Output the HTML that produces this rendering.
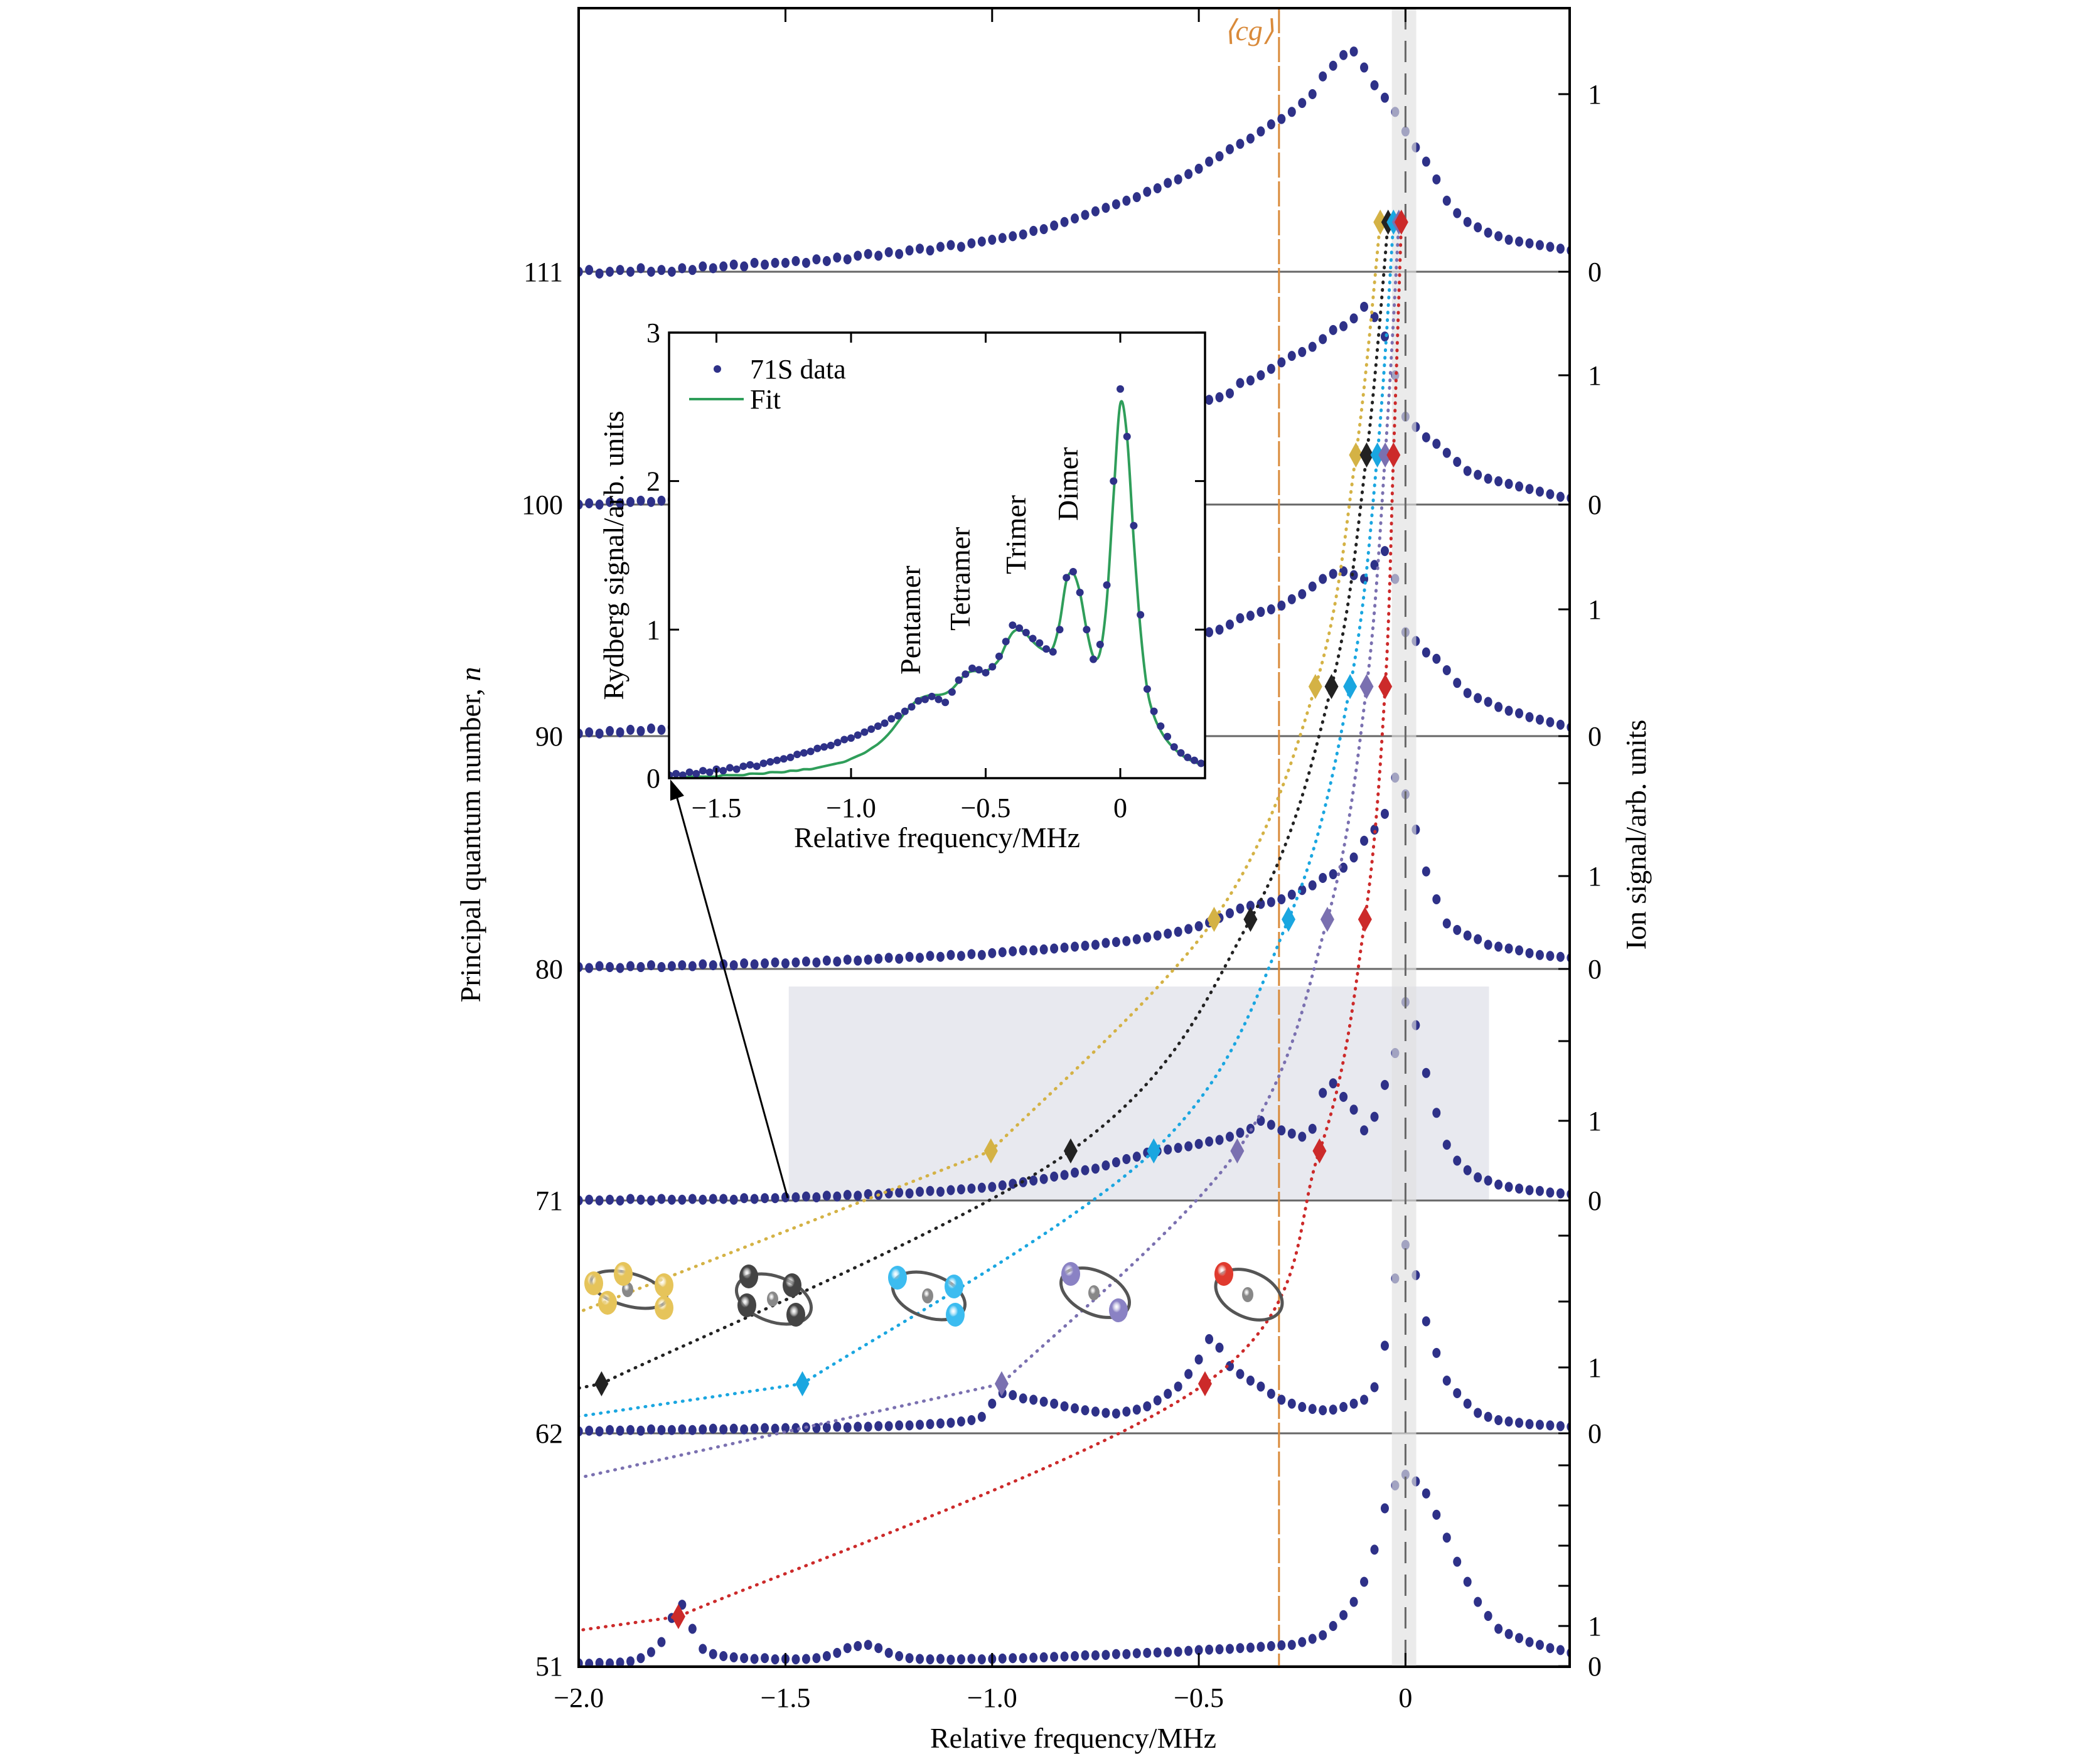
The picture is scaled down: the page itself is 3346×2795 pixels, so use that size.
<!DOCTYPE html>
<html><head><meta charset="utf-8"><style>
html,body{margin:0;padding:0;background:#fff;}
svg{display:block;}
text{font-family:"Liberation Serif",serif;}
</style></head><body>
<svg id="chart" width="3346" height="2795" viewBox="0 0 3346 2795" xmlns="http://www.w3.org/2000/svg"></svg>
<script>
// ---------- DATA ----------
const panelLabels = ["111","100","90","80","71","62","51"];
const freqStart = -2.0;
const freqStep = 0.025;
const xTickValues = [-2.0,-1.5,-1.0,-0.5,0];
const xTickLabels = ["\u22122.0","\u22121.5","\u22121.0","\u22120.5","0"];
const s111 = [0.0,0.01,-0.01,0.0,0.01,0.0,0.02,0.0,0.01,0.0,0.02,0.01,0.03,0.02,0.03,0.04,0.03,0.05,0.04,0.05,0.05,
 0.06,0.05,0.07,0.06,0.08,0.07,0.09,0.10,0.09,0.11,0.10,0.12,0.13,0.12,0.14,0.15,0.14,0.16,0.17,0.18,
 0.19,0.2,0.21,0.23,0.24,0.26,0.28,0.3,0.32,0.34,0.36,0.38,0.4,0.42,0.45,0.47,0.5,0.52,0.55,0.58,
 0.62,0.65,0.69,0.72,0.75,0.79,0.83,0.86,0.9,0.95,1.0,1.1,1.16,1.22,1.24,1.15,1.05,0.98,0.9,0.79,
 0.7,0.62,0.52,0.4,0.33,0.28,0.25,0.22,0.2,0.18,0.17,0.16,0.15,0.14,0.13,0.12];
const s100 = [0.0,0.01,0.0,0.02,0.01,0.02,0.03,0.02,0.03,0.04,0.04,0.05,0.05,0.06,0.06,0.07,0.07,0.08,0.09,0.09,0.1,
 0.1,0.11,0.12,0.12,0.13,0.14,0.15,0.15,0.16,0.17,0.18,0.19,0.2,0.21,0.22,0.23,0.25,0.26,0.28,0.3,
 0.31,0.33,0.35,0.37,0.39,0.41,0.43,0.45,0.48,0.5,0.53,0.55,0.58,0.6,0.63,0.66,0.69,0.72,0.75,0.78,
 0.81,0.83,0.86,0.94,0.96,1.0,1.05,1.1,1.15,1.18,1.22,1.28,1.35,1.38,1.44,1.53,1.45,1.3,1.0,0.68,
 0.6,0.52,0.47,0.4,0.33,0.26,0.23,0.2,0.18,0.16,0.14,0.12,0.1,0.08,0.06,0.05];
const s90 = [0.02,0.03,0.02,0.04,0.03,0.05,0.04,0.06,0.05,0.07,0.06,0.08,0.08,0.09,0.1,0.1,0.11,0.12,0.12,0.13,0.14,
 0.15,0.16,0.16,0.17,0.18,0.19,0.2,0.21,0.22,0.23,0.24,0.25,0.26,0.28,0.29,0.3,0.32,0.33,0.35,0.37,
 0.38,0.4,0.42,0.44,0.46,0.48,0.5,0.52,0.54,0.56,0.58,0.6,0.62,0.65,0.67,0.7,0.72,0.75,0.77,0.8,
 0.82,0.84,0.88,0.93,0.95,0.98,1.0,1.03,1.08,1.12,1.18,1.24,1.28,1.3,1.27,1.24,1.35,1.46,1.24,0.82,
 0.75,0.66,0.61,0.52,0.42,0.34,0.3,0.27,0.23,0.2,0.18,0.15,0.13,0.11,0.09,0.07];
const s80 = [0.02,0.01,0.03,0.02,0.01,0.03,0.02,0.04,0.02,0.03,0.04,0.03,0.05,0.04,0.05,0.04,0.06,0.05,0.06,0.07,0.06,0.07,0.08,0.07,0.09,0.08,0.1,0.09,0.1,
 0.11,0.12,0.11,0.13,0.12,0.14,0.13,0.15,0.14,0.16,0.15,0.17,
 0.18,0.19,0.2,0.2,0.21,0.22,0.23,0.24,0.25,0.26,0.28,0.29,0.3,0.32,0.34,0.36,0.38,0.4,0.43,0.46,
 0.5,0.55,0.6,0.65,0.68,0.7,0.72,0.75,0.8,0.85,0.9,0.98,1.02,1.09,1.2,1.38,1.5,1.67,2.06,1.88,
 1.5,1.05,0.75,0.49,0.42,0.36,0.32,0.26,0.24,0.22,0.2,0.17,0.15,0.14,0.13,0.12];
const s71 = [0.0,0.01,0.0,0.01,0.0,0.02,0.01,0.0,0.02,0.01,0.01,0.02,0.01,0.02,0.02,0.01,0.03,0.02,0.03,0.03,0.04,
 0.04,0.05,0.04,0.06,0.05,0.07,0.06,0.08,0.07,0.09,0.1,0.09,0.11,0.12,0.11,0.13,0.14,0.15,0.16,0.17,
 0.19,0.21,0.23,0.25,0.27,0.3,0.32,0.35,0.38,0.4,0.44,0.48,0.52,0.55,0.6,0.62,0.64,0.66,0.68,0.71,
 0.74,0.76,0.8,0.85,0.9,1.0,0.95,0.88,0.84,0.8,0.9,1.35,1.47,1.3,1.14,0.88,1.05,1.45,1.85,2.49,
 2.2,1.6,1.1,0.7,0.5,0.38,0.29,0.25,0.2,0.17,0.15,0.13,0.12,0.1,0.09,0.08];
const s62 = [0.03,0.04,0.03,0.05,0.04,0.05,0.04,0.06,0.05,0.05,0.06,0.05,0.06,0.07,0.06,0.07,0.06,0.07,0.08,0.07,0.08,0.08,0.09,0.08,0.09,0.1,0.09,0.1,0.1,0.11,0.11,0.12,0.12,0.13,0.14,0.15,0.16,
 0.18,0.2,0.25,0.45,0.61,0.58,0.53,0.51,0.48,0.45,0.41,0.38,0.35,0.33,0.31,0.3,0.33,0.36,0.41,0.5,0.6,0.71,0.9,1.12,
 1.43,1.3,1.02,0.9,0.8,0.71,0.6,0.51,0.45,0.4,0.37,0.35,0.36,0.4,0.45,0.51,0.7,1.33,2.35,2.86,
 2.4,1.7,1.22,0.8,0.61,0.45,0.31,0.25,0.2,0.18,0.16,0.14,0.13,0.12,0.11,0.1];
const s51 = [0.07,0.06,0.08,0.07,0.09,0.12,0.2,0.35,0.6,1.2,1.53,0.93,0.43,0.3,0.25,0.22,0.2,0.18,0.2,0.17,0.18,
 0.17,0.18,0.2,0.25,0.33,0.45,0.5,0.53,0.45,0.33,0.25,0.2,0.18,0.17,0.18,0.16,0.17,0.18,0.17,0.18,
 0.19,0.2,0.2,0.21,0.22,0.23,0.24,0.25,0.27,0.27,0.28,0.3,0.3,0.32,0.33,0.34,0.35,0.36,0.38,0.4,
 0.41,0.42,0.43,0.45,0.46,0.48,0.5,0.52,0.53,0.6,0.68,0.77,1.0,1.27,1.6,2.1,2.9,3.93,4.5,4.77,
 4.6,4.3,3.77,3.2,2.6,2.1,1.6,1.25,0.93,0.8,0.7,0.6,0.53,0.45,0.4,0.33];
const panelSeries = [s111,s100,s90,s80,s71,s62,s51];
const dYellow = [-0.061,-0.12,-0.218,-0.463,-1.003];
const dBlack  = [-0.042,-0.094,-0.179,-0.375,-0.81,-1.945];
const dCyan   = [-0.029,-0.068,-0.134,-0.283,-0.609,-1.459];
const dPurple = [-0.016,-0.049,-0.094,-0.189,-0.407,-0.977];
const dRed    = [-0.010,-0.029,-0.049,-0.098,-0.208,-0.485,-1.759];
const insetStart = -1.675;
const insetData = [0.02,0.03,0.02,0.04,0.03,0.05,0.04,0.06,0.05,0.07,0.06,0.08,0.09,0.08,0.1,0.11,0.12,0.13,0.14,0.16,
 0.17,0.18,0.2,0.21,0.22,0.24,0.26,0.27,0.29,0.31,0.33,0.35,0.37,0.4,0.42,0.45,0.48,0.52,0.53,0.55,
 0.53,0.51,0.58,0.66,0.7,0.74,0.73,0.71,0.75,0.82,0.92,1.03,1.01,0.98,0.94,0.91,0.87,0.85,1.0,1.35,
 1.39,1.25,1.0,0.8,0.9,1.3,2.0,2.62,2.3,1.7,1.1,0.6,0.45,0.35,0.28,0.21,0.17,0.14,0.12,0.1];
const insetFit = [0.0,0.0,0.0,0.01,0.01,0.01,0.01,0.01,0.02,0.02,0.02,0.02,0.03,0.03,0.03,0.04,0.04,0.04,0.05,0.05,
 0.06,0.06,0.07,0.08,0.09,0.1,0.11,0.13,0.15,0.17,0.2,0.23,0.27,0.32,0.38,0.44,0.49,0.53,0.55,0.56,
 0.56,0.57,0.6,0.65,0.7,0.72,0.72,0.72,0.75,0.8,0.9,0.98,1.0,0.97,0.92,0.88,0.86,0.88,1.05,1.33,
 1.38,1.25,1.0,0.82,0.85,1.2,1.9,2.52,2.3,1.6,1.0,0.6,0.42,0.32,0.25,0.2,0.16,0.13,0.11,0.09];
const insetXTicks = [-1.5,-1.0,-0.5,0];
const insetXLabels = ["\u22121.5","\u22121.0","\u22120.5","0"];
const insetYTicks = [0,1,2,3];

// ---------- LAYOUT ----------
const NS="http://www.w3.org/2000/svg";
const svg=document.getElementById('chart');
const L=922, R=2501, T=13, B=2656;
const base=[433,804,1173,1544,1913,2284,2655];
const unit=[283,206,202,148,127,105,64];
function X(f){return 2239.4+f*658.6;}
function Y(p,v){return base[p]-v*unit[p];}
function el(tag,attrs,parent){const e=document.createElementNS(NS,tag);for(const k in attrs)e.setAttribute(k,attrs[k]);(parent||svg).appendChild(e);return e;}
function txt(s,attrs,parent){const e=el('text',attrs,parent);e.textContent=s;return e;}

const defs=el('defs',{});
const cp=el('clipPath',{id:'plotclip'},defs);
el('rect',{x:L,y:T,width:R-L,height:B-T},cp);
for(const [id,c] of [['gy','#e6c45a'],['gk','#444'],['gc','#3cbcf0'],['gp','#8a82c4'],['gr','#e03a2e'],['gg','#888']]){
  const g=el('radialGradient',{id:id,cx:'0.4',cy:'0.35',r:'0.7'},defs);
  el('stop',{offset:'0','stop-color':'#fff','stop-opacity':'0.4'},g);
  el('stop',{offset:'0.35','stop-color':c},g);
  el('stop',{offset:'1','stop-color':c,'stop-opacity':'1'},g);
}

const hl=el('rect',{x:X(-1.492),y:1572,width:X(0.202)-X(-1.492),height:base[4]-1572,fill:'#e8e9ef'});



for(let p=0;p<7;p++){
  const ln=el('line',{x1:L,x2:R,y1:base[p],y2:base[p],stroke:'#666','stroke-width':3});
  
  
}

const cg=el('line',{x1:X(-0.306),x2:X(-0.306),y1:T,y2:B,stroke:'#d98a3a','stroke-width':3,'stroke-dasharray':'40 6'});


const cgt=txt('\u27E8cg\u27E9',{x:X(-0.306)-8,y:64,'text-anchor':'end','font-size':46,'font-style':'italic',fill:'#d98a3a'});



const dataG=el('g',{'clip-path':'url(#plotclip)',fill:'#2e3188'});


for(let p=0;p<7;p++){
  const g=el('g',{},dataG);
  
  
  panelSeries[p].forEach((v,i)=>{
    const f=freqStart+i*freqStep;
    const c=el('ellipse',{cx:X(f),cy:Y(p,v),rx:6.5,ry:8},g);
    
    
  });
}

const band=el('rect',{x:X(-0.033),y:T,width:X(0.026)-X(-0.033),height:B-T,fill:'#e0e0e0',opacity:0.65});


const zl=el('line',{x1:X(0),x2:X(0),y1:T,y2:B,stroke:'#666','stroke-width':3,'stroke-dasharray':'34 18'});



const diamondSets=[[dYellow,'#d4b245',2091],[dBlack,'#222',2212],[dCyan,'#1aa6e0',2257],[dPurple,'#7a70b0',2355],[dRed,'#cc2a2a',2598]];
const setNames=['pentamer','tetramer','trimer','dimer','monomer'];
function crPath(pts,straightLast){
  let d='M'+pts[0][0]+','+pts[0][1];
  const n=pts.length-1;
  for(let i=0;i<n;i++){
    const p1=pts[i],p2=pts[i+1];
    if(straightLast && i===n-1){ d+=' L'+p2[0]+','+p2[1]; break; }
    const p0=pts[Math.max(0,i-1)];
    const p3=(straightLast && i===n-2)?p2:pts[Math.min(n,i+2)];
    const c1=[p1[0]+(p2[0]-p0[0])/6,p1[1]+(p2[1]-p0[1])/6];
    const c2=[p2[0]-(p3[0]-p1[0])/6,p2[1]-(p3[1]-p1[1])/6];
    d+=' C'+c1[0]+','+c1[1]+' '+c2[0]+','+c2[1]+' '+p2[0]+','+p2[1];
  }
  return d;
}
diamondSets.forEach(([arr,col,endY],k)=>{
  const pts=arr.map((f,p)=>[X(f),base[p]-79]);
  pts.push([L,endY]);
  const path=el('path',{d:crPath(pts,true),fill:'none',stroke:col,'stroke-width':5,'stroke-dasharray':'1 11','stroke-linecap':'round','clip-path':'url(#plotclip)'});
  
  
  arr.forEach((f,p)=>{
    const x=X(f),y=base[p]-79;
    const dm=el('polygon',{points:`${x},${y-20} ${x+11},${y} ${x},${y+20} ${x-11},${y}`,fill:col});
    
    
  });
});

const mols=[
 {cx:1002,cy:2055,rx:62,ry:26,rot:15,g:'gy',balls:[[946,2045],[993,2030],[1058,2048],[968,2076],[1058,2084]]},
 {cx:1233,cy:2070,rx:62,ry:36,rot:20,g:'gk',balls:[[1193,2034],[1262,2048],[1190,2080],[1268,2095]]},
 {cx:1480,cy:2065,rx:60,ry:34,rot:20,g:'gc',balls:[[1430,2036],[1520,2050],[1522,2095]]},
 {cx:1745,cy:2060,rx:58,ry:34,rot:25,g:'gp',balls:[[1706,2030],[1782,2088]]},
 {cx:1990,cy:2063,rx:56,ry:36,rot:25,g:'gr',balls:[[1950,2030]]}
];
mols.forEach((m,k)=>{
  const g=el('g',{});
  
  
  el('ellipse',{cx:m.cx,cy:m.cy,rx:m.rx,ry:m.ry,transform:`rotate(${m.rot} ${m.cx} ${m.cy})`,fill:'none',stroke:'#555','stroke-width':5},g);
  el('ellipse',{cx:m.cx-2,cy:m.cy,rx:9,ry:12,fill:'url(#gg)'},g);
  m.balls.forEach(b=>el('ellipse',{cx:b[0],cy:b[1],rx:15,ry:19,fill:`url(#${m.g})`},g));
});

const fr=el('rect',{x:L,y:T,width:R-L,height:B-T,fill:'none',stroke:'#000','stroke-width':4});



xTickValues.forEach((v,i)=>{
  const x=X(v);
  const t1=el('line',{x1:x,x2:x,y1:B,y2:B-22,stroke:'#000','stroke-width':3});
  
  
  const t2=el('line',{x1:x,x2:x,y1:T,y2:T+22,stroke:'#000','stroke-width':3});
  
  
  const lb=txt(xTickLabels[i],{x:x,y:2720,'text-anchor':'middle','font-size':44});
  
  
});
const xt=txt('Relative frequency/MHz',{x:1710,y:2785,'text-anchor':'middle','font-size':46});



for(let p=0;p<7;p++){
  const lb=txt(panelLabels[p],{x:897,y:base[p]+15,'text-anchor':'end','font-size':44});
  
  
  const top=p>0?base[p-1]:T;
  for(let v=0;;v++){
    const y=Y(p,v); if(y<=top+10) break;
    const tk=el('line',{x1:R,x2:R-18,y1:y,y2:y,stroke:'#000','stroke-width':3});
    
    
    if(v<=1){
      const rl=txt(String(v),{x:2530,y:y+15,'font-size':44});
      
      
    }
  }
}
const ly=txt('Principal quantum number, ',{x:0,y:0,'text-anchor':'middle','font-size':46,transform:'translate(765,1330) rotate(-90)'});
const ni=el('tspan',{'font-style':'italic'},ly); ni.textContent='n';


const ry=txt('Ion signal/arb. units',{x:0,y:0,'text-anchor':'middle','font-size':46,transform:'translate(2622,1330) rotate(-90)'});



const IL=1066, IR=1920, IT=530, IB=1240;
const arr=el('line',{x1:1255,y1:1909,x2:IL+8,y2:IB+14,stroke:'#000','stroke-width':3});


const ah=el('polygon',{points:`${IL+2},${IB+2} ${IL+2},${IB+36} ${IL+24},${IB+28}`,fill:'#000'});



function IX(f){return 1785+f*429;}
function IY(v){return IB-v*236.7;}
const ins=el('g',{});


el('rect',{x:IL,y:IT,width:IR-IL,height:IB-IT,fill:'#fff'},ins);
const icp=el('clipPath',{id:'insclip'},defs);
el('rect',{x:IL,y:IT,width:IR-IL,height:IB-IT},icp);
const fitPts=insetFit.map((v,i)=>[IX(insetStart+i*freqStep),IY(v)]);
const fitPath=el('path',{d:crPath(fitPts,false),fill:'none',stroke:'#2f9e5a','stroke-width':4,'clip-path':'url(#insclip)'},ins);


const idg=el('g',{fill:'#2e3188','clip-path':'url(#insclip)'},ins);


insetData.forEach((v,i)=>{
  const c=el('circle',{cx:IX(insetStart+i*freqStep),cy:IY(v),r:6},idg);
  
  
});
const ifr=el('rect',{x:IL,y:IT,width:IR-IL,height:IB-IT,fill:'none',stroke:'#000','stroke-width':3.5},ins);


insetXTicks.forEach((v,i)=>{
  const x=IX(v);
  el('line',{x1:x,x2:x,y1:IB,y2:IB-16,stroke:'#000','stroke-width':3},ins);
  el('line',{x1:x,x2:x,y1:IT,y2:IT+16,stroke:'#000','stroke-width':3},ins);
  const lb=txt(insetXLabels[i],{x:x,y:IB+62,'text-anchor':'middle','font-size':44},ins);
  
  
});
insetYTicks.forEach(v=>{
  const y=IY(v);
  el('line',{x1:IL,x2:IL+16,y1:y,y2:y,stroke:'#000','stroke-width':3},ins);
  el('line',{x1:IR,x2:IR-16,y1:y,y2:y,stroke:'#000','stroke-width':3},ins);
  const lb=txt(String(v),{x:IL-14,y:y+15,'text-anchor':'end','font-size':44},ins);
  
  
});
const ixt=txt('Relative frequency/MHz',{x:1493,y:1350,'text-anchor':'middle','font-size':46},ins);


const iyt=txt('Rydberg signal/arb. units',{x:0,y:0,'text-anchor':'middle','font-size':46,transform:'translate(993,885) rotate(-90)'},ins);


const lc=el('circle',{cx:1143,cy:588,r:6,fill:'#2e3188'},ins);


const lt1=txt('71S data',{x:1195,y:603,'font-size':44},ins);


const lfl=el('line',{x1:1098,x2:1185,y1:636,y2:636,stroke:'#2f9e5a','stroke-width':4},ins);


const lt2=txt('Fit',{x:1195,y:651,'font-size':44},ins);


[['Pentamer',1466,1075],['Tetramer',1545,1005],['Trimer',1634,915],['Dimer',1717,830]].forEach(([s,x,y])=>{
  const t=txt(s,{x:0,y:0,'font-size':46,transform:`translate(${x},${y}) rotate(-90)`},ins);
  
  
});
</script>
</body></html>
